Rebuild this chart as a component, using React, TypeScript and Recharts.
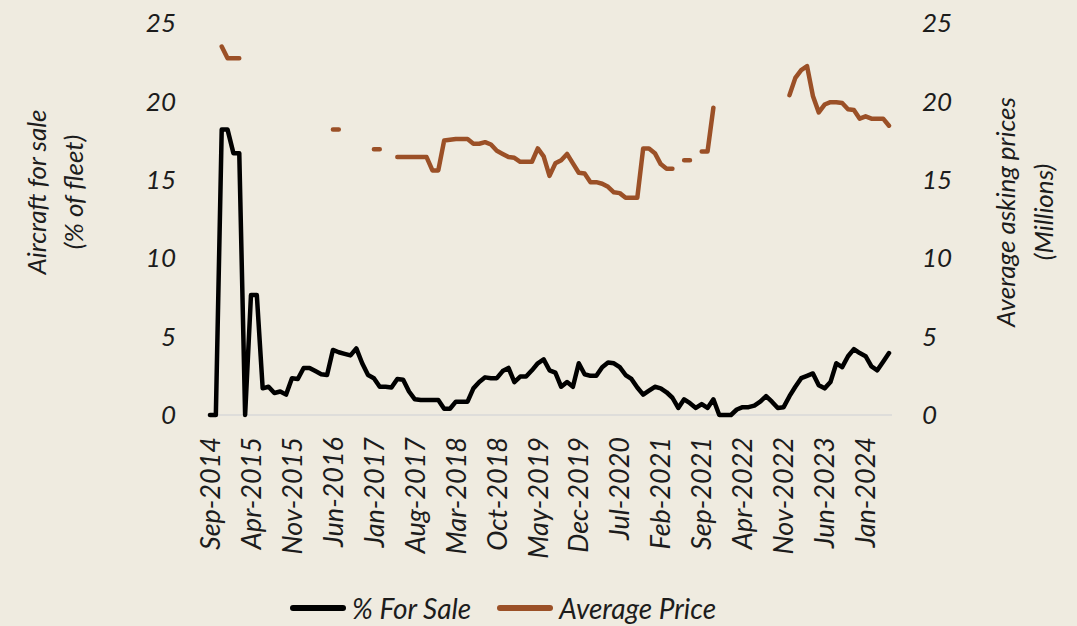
import { CartesianGrid, Legend, Line, LineChart, XAxis, YAxis } from 'recharts';

const MONTH_NAMES = ['Jan', 'Feb', 'Mar', 'Apr', 'May', 'Jun', 'Jul', 'Aug', 'Sep', 'Oct', 'Nov', 'Dec'];

// Sep-2014 .. May-2024, one label per month
const months: string[] = [];
for (let i = 0; i < 117; i++) {
  const m = (8 + i) % 12;
  const y = 2014 + Math.floor((8 + i) / 12);
  months.push(`${MONTH_NAMES[m]}-${y}`);
}

const forSale = [
  0, 0, 18.2, 18.2, 16.7, 16.7, 0, 7.65, 7.65, 1.7,
  1.8, 1.4, 1.5, 1.3, 2.35, 2.3, 3.0, 3.0, 2.8, 2.6,
  2.55, 4.15, 4.0, 3.9, 3.8, 4.25, 3.3, 2.55, 2.35, 1.8,
  1.8, 1.75, 2.3, 2.25, 1.5, 1.0, 0.95, 0.95, 0.95, 0.95,
  0.4, 0.4, 0.85, 0.85, 0.85, 1.7, 2.1, 2.4, 2.35, 2.35,
  2.8, 3.0, 2.1, 2.45, 2.45, 2.85, 3.3, 3.55, 2.85, 2.7,
  1.8, 2.1, 1.8, 3.3, 2.6, 2.5, 2.5, 3.05, 3.35, 3.3,
  3.05, 2.55, 2.3, 1.75, 1.3, 1.55, 1.8, 1.7, 1.45, 1.1,
  0.45, 1.0, 0.75, 0.45, 0.7, 0.45, 1.0, 0, 0, 0,
  0.35, 0.5, 0.5, 0.6, 0.85, 1.2, 0.85, 0.45, 0.5, 1.2,
  1.8, 2.35, 2.5, 2.65, 1.9, 1.7, 2.1, 3.3, 3.05, 3.75,
  4.2, 3.95, 3.75, 3.1, 2.85, 3.4, 3.95,
];

const avgPrice: (number | null)[] = [
  null, null, 23.5, 22.75, 22.75, 22.75, null, null, null, null,
  null, null, null, null, null, null, null, null, null, null,
  null, 18.2, 18.2, null, null, null, null, null, 16.95, 16.95,
  null, null, 16.45, 16.45, 16.45, 16.45, 16.45, 16.45, 15.6, 15.6,
  17.5, 17.55, 17.6, 17.6, 17.6, 17.3, 17.3, 17.4, 17.25, 16.85,
  16.65, 16.45, 16.4, 16.15, 16.15, 16.15, 17.0, 16.5, 15.25, 16.05,
  16.25, 16.65, 16.05, 15.45, 15.4, 14.85, 14.85, 14.75, 14.55, 14.2,
  14.15, 13.85, 13.85, 13.85, 17.0, 17.0, 16.7, 16.0, 15.7, 15.7,
  null, 16.25, 16.25, null, 16.8, 16.8, 19.6, null, null, null,
  null, null, null, null, null, null, null, null, null, 20.4,
  21.5, 22.0, 22.25, 20.35, 19.3, 19.8, 19.95, 19.95, 19.9, 19.5,
  19.45, 18.9, 19.05, 18.9, 18.9, 18.9, 18.45,
];

const yTicks = [0, 5, 10, 15, 20, 25];

const BG = '#efebe0';
const INK = '#1c1c1c';
const BROWN = '#9b5027';
const FONT = 'Lato, "Open Sans", sans-serif';

const data = months.map((month, i) => ({
  month,
  forSale: forSale[i],
  avgPrice: avgPrice[i],
}));

const MonthTick = (props: any) => {
  const { x, y, payload } = props;
  return (
    <text
      x={x}
      y={y}
      transform={`rotate(-90 ${x} ${y})`}
      textAnchor="end"
      dy="0.36em"
      fontFamily={FONT}
      fontStyle="italic"
      fontSize={27}
      fill={INK}
    >
      {payload.value}
    </text>
  );
};

const AxisTitle = ({ lines, cy }: { lines: { text: string; cx: number }[]; cy: number }) => (
  <g>
    {lines.map((l) => (
      <text
        key={l.text}
        x={l.cx}
        y={cy}
        transform={`rotate(-90 ${l.cx} ${cy})`}
        textAnchor="middle"
        dominantBaseline="central"
        fontFamily={FONT}
        fontStyle="italic"
        fontSize={26}
        fill={INK}
      >
        {l.text}
      </text>
    ))}
  </g>
);

const LegendContent = () => (
  <div style={{ display: 'flex', alignItems: 'center', height: 36, paddingLeft: 290, fontFamily: FONT, fontStyle: 'italic', fontSize: 28, color: INK }}>
    <span style={{ width: 56, height: 6, borderRadius: 3, background: '#000', marginRight: 6 }} />
    <span style={{ marginRight: 26 }}>% For Sale</span>
    <span style={{ width: 56, height: 6, borderRadius: 3, background: BROWN, marginRight: 6 }} />
    <span>Average Price</span>
  </div>
);

export default function App() {
  return (
    <div style={{ position: 'absolute', left: 0, top: 0, width: 1077, height: 626, background: BG }}>
      <LineChart width={1077} height={626} data={data} margin={{ top: 23, right: 0, bottom: 0, left: 0 }}>
        {/* zero baseline drawn as a grid line so the series sit on top of it */}
        <CartesianGrid yAxisId="left" vertical={false} horizontalValues={[0]} stroke="#d8d8d8" strokeWidth={1.5} />
        <XAxis
          dataKey="month"
          interval={6}
          height={175}
          tick={<MonthTick />}
          tickLine={false}
          tickSize={0}
          tickMargin={22}
          padding={{ left: 3, right: 3 }}
          axisLine={false}
        />
        <YAxis
          yAxisId="left"
          width={207}
          domain={[0, 25]}
          ticks={yTicks}
          axisLine={false}
          tickLine={false}
          tickSize={0}
          tickMargin={31}
          tick={{ fontFamily: FONT, fontStyle: 'italic', fontSize: 26, fill: INK }}
          label={
            <AxisTitle
              cy={192}
              lines={[
                { text: 'Aircraft for sale', cx: 36 },
                { text: '(% of fleet)', cx: 73 },
              ]}
            />
          }
        />
        <YAxis
          yAxisId="right"
          orientation="right"
          width={185}
          domain={[0, 25]}
          ticks={yTicks}
          axisLine={false}
          tickLine={false}
          tickSize={0}
          tickMargin={30}
          tick={{ fontFamily: FONT, fontStyle: 'italic', fontSize: 26, fill: INK, textAnchor: 'start' }}
          label={
            <AxisTitle
              cy={212}
              lines={[
                { text: 'Average asking prices', cx: 1005 },
                { text: '(Millions)', cx: 1043 },
              ]}
            />
          }
        />
        <Legend verticalAlign="bottom" height={36} content={<LegendContent />} wrapperStyle={{ left: 0, width: 1077 }} />
        <Line
          yAxisId="left"
          type="linear"
          dataKey="forSale"
          name="% For Sale"
          stroke="#000"
          strokeWidth={4.5}
          strokeLinejoin="round"
          strokeLinecap="round"
          dot={false}
          activeDot={false}
          isAnimationActive={false}
        />
        <Line
          yAxisId="right"
          type="linear"
          dataKey="avgPrice"
          name="Average Price"
          stroke={BROWN}
          strokeWidth={4.5}
          strokeLinejoin="round"
          strokeLinecap="round"
          dot={false}
          activeDot={false}
          isAnimationActive={false}
        />
      </LineChart>
    </div>
  );
}
